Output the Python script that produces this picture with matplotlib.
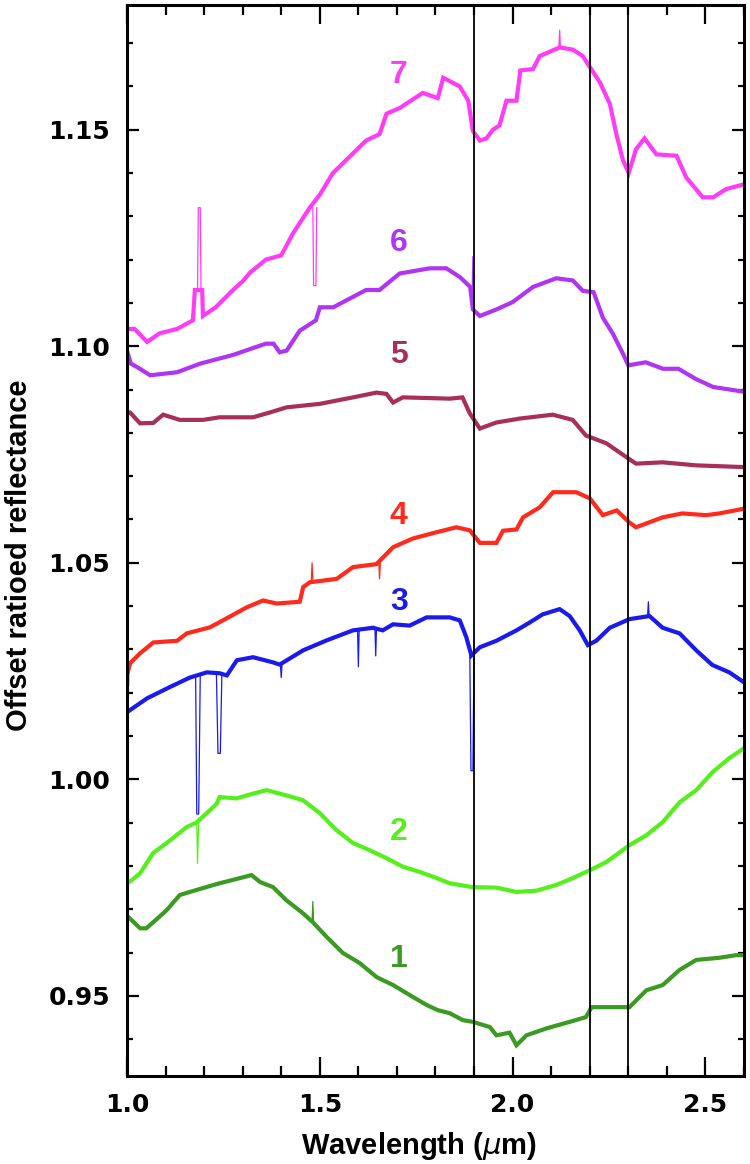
import matplotlib
matplotlib.use("Agg")
import matplotlib.pyplot as plt
from matplotlib.ticker import MultipleLocator

# spectra (wavelength in um, offset ratioed reflectance)
x7 = [1.0, 1.02, 1.052, 1.085, 1.13, 1.171, 1.176, 1.195, 1.197, 1.23, 1.275, 1.30, 1.319, 1.36, 1.40,
      1.43, 1.474, 1.5, 1.534, 1.58, 1.62, 1.655, 1.673, 1.707, 1.767, 1.806, 1.82, 1.863, 1.885, 1.897,
      1.915, 1.932, 1.949, 1.966, 1.984, 2.01, 2.02, 2.053, 2.07, 2.122, 2.156, 2.182, 2.2, 2.226, 2.252,
      2.269, 2.286, 2.301, 2.32, 2.342, 2.373, 2.425, 2.45, 2.493, 2.52, 2.554, 2.6]
y7 = [1.104, 1.104, 1.101, 1.103, 1.104, 1.106, 1.113, 1.113, 1.107, 1.109, 1.113, 1.115, 1.117, 1.120,
      1.121, 1.126, 1.132, 1.135, 1.140, 1.144, 1.1475, 1.149, 1.1537, 1.155, 1.1585, 1.1573, 1.162, 1.160,
      1.1567, 1.1497, 1.1475, 1.148, 1.150, 1.151, 1.1567, 1.1567, 1.1637, 1.164, 1.167, 1.169, 1.1685,
      1.167, 1.1645, 1.161, 1.156, 1.149, 1.143, 1.140, 1.1455, 1.148, 1.1443, 1.144, 1.139, 1.1344,
      1.1344, 1.1363, 1.1374]
x6 = [1.0, 1.01, 1.03, 1.06, 1.13, 1.19, 1.275, 1.36, 1.38, 1.396, 1.414, 1.448, 1.49, 1.5, 1.535, 1.62,
      1.655, 1.707, 1.785, 1.828, 1.863, 1.89, 1.897, 1.915, 1.958, 2.0, 2.053, 2.113, 2.156, 2.182, 2.21,
      2.234, 2.26, 2.286, 2.3, 2.345, 2.39, 2.43, 2.476, 2.52, 2.6]
y6 = [1.099, 1.096, 1.095, 1.0933, 1.094, 1.096, 1.098, 1.1006, 1.1006, 1.0986, 1.099, 1.1036, 1.106,
      1.109, 1.109, 1.113, 1.113, 1.1168, 1.118, 1.118, 1.116, 1.1137, 1.1085, 1.107, 1.1085, 1.1102,
      1.1137, 1.1157, 1.1152, 1.1128, 1.1125, 1.1066, 1.1029, 1.0983, 1.0956, 1.0963, 1.0948, 1.0948,
      1.0924, 1.0906, 1.0895]
x5 = [1.0, 1.008, 1.034, 1.068, 1.094, 1.137, 1.197, 1.24, 1.327, 1.37, 1.414, 1.5, 1.586, 1.647, 1.673,
      1.69, 1.715, 1.8, 1.837, 1.87, 1.889, 1.915, 1.958, 2.018, 2.104, 2.156, 2.19, 2.243, 2.295, 2.32,
      2.389, 2.476, 2.6]
y5 = [1.0845, 1.0847, 1.0822, 1.0823, 1.0842, 1.083, 1.083, 1.0836, 1.0836, 1.0847, 1.0859, 1.0867,
      1.0882, 1.0893, 1.089, 1.087, 1.0882, 1.088, 1.0879, 1.0882, 1.0845, 1.081, 1.0824, 1.0833, 1.0842,
      1.083, 1.0794, 1.0776, 1.0744, 1.0729, 1.0732, 1.0725, 1.0721]
x4 = [1.003, 1.008, 1.034, 1.068, 1.13, 1.155, 1.215, 1.259, 1.31, 1.353, 1.388, 1.448, 1.457, 1.474,
      1.544, 1.586, 1.647, 1.69, 1.741, 1.8, 1.854, 1.889, 1.915, 1.958, 1.975, 2.01, 2.027, 2.07, 2.105,
      2.165, 2.2, 2.234, 2.27, 2.303, 2.32, 2.389, 2.44, 2.502, 2.536, 2.6]
y4 = [1.025, 1.0268, 1.0291, 1.0316, 1.032, 1.0337, 1.0351, 1.0372, 1.0397, 1.0413, 1.0406, 1.041,
      1.0444, 1.0455, 1.0463, 1.049, 1.0497, 1.0536, 1.0556, 1.057, 1.0582, 1.0575, 1.0546, 1.0546,
      1.0574, 1.0577, 1.0605, 1.0628, 1.0663, 1.0663, 1.0649, 1.061, 1.0621, 1.0593, 1.0582, 1.0605,
      1.0614, 1.061, 1.0614, 1.0625]
x3 = [1.0, 1.052, 1.111, 1.163, 1.207, 1.24, 1.259, 1.285, 1.327, 1.379, 1.396, 1.457, 1.518, 1.586,
      1.638, 1.663, 1.69, 1.733, 1.777, 1.837, 1.863, 1.88, 1.893, 1.915, 1.958, 2.01, 2.044, 2.078,
      2.122, 2.148, 2.174, 2.195, 2.217, 2.252, 2.303, 2.355, 2.389, 2.433, 2.476, 2.518, 2.562, 2.6]
y3 = [1.0155, 1.0187, 1.0213, 1.0235, 1.0247, 1.0245, 1.0240, 1.0275, 1.0282, 1.027, 1.0265, 1.0298,
      1.0321, 1.0344, 1.035, 1.0344, 1.0358, 1.0355, 1.0374, 1.0374, 1.0367, 1.0328, 1.0286, 1.0305,
      1.032, 1.0344, 1.0362, 1.0381, 1.0393, 1.0377, 1.0344, 1.031, 1.032, 1.035, 1.037, 1.0377, 1.035,
      1.0337, 1.0298, 1.0264, 1.0247, 1.0224]
x2 = [1.0, 1.012, 1.034, 1.068, 1.103, 1.155, 1.18, 1.207, 1.233, 1.24, 1.284, 1.327, 1.362, 1.413,
      1.456, 1.5, 1.543, 1.586, 1.63, 1.673, 1.716, 1.76, 1.803, 1.837, 1.897, 1.958, 2.01, 2.062, 2.113,
      2.156, 2.2, 2.243, 2.303, 2.347, 2.389, 2.433, 2.476, 2.519, 2.562, 2.6]
y2 = [0.976, 0.9767, 0.9783, 0.983, 0.9853, 0.989, 0.990, 0.9922, 0.9944, 0.9959, 0.9956, 0.9967, 0.9975,
      0.9963, 0.9952, 0.9922, 0.9883, 0.9853, 0.9836, 0.9818, 0.9798, 0.9786, 0.9772, 0.976, 0.9751,
      0.975, 0.974, 0.9743, 0.9756, 0.9772, 0.979, 0.9809, 0.9848, 0.9871, 0.9901, 0.9947, 0.9975,
      1.0017, 1.0049, 1.0072]
x1 = [1.0, 1.012, 1.034, 1.05, 1.068, 1.103, 1.137, 1.197, 1.24, 1.293, 1.323, 1.345, 1.379, 1.413,
      1.456, 1.482, 1.518, 1.56, 1.603, 1.648, 1.69, 1.733, 1.777, 1.806, 1.837, 1.871, 1.897, 1.941,
      1.958, 1.992, 2.01, 2.036, 2.088, 2.148, 2.19, 2.205, 2.252, 2.303, 2.347, 2.389, 2.433, 2.476,
      2.536, 2.579, 2.6]
y1 = [0.9685, 0.9675, 0.9656, 0.9656, 0.967, 0.9698, 0.9733, 0.9749, 0.976, 0.9772, 0.9779, 0.9763,
      0.9751, 0.9721, 0.9691, 0.967, 0.9636, 0.9599, 0.9576, 0.9543, 0.9525, 0.9502, 0.9479, 0.9467,
      0.946, 0.9444, 0.944, 0.9428, 0.9409, 0.9415, 0.9386, 0.9409, 0.9425, 0.944, 0.9451, 0.9474,
      0.9474, 0.9474, 0.9513, 0.9525, 0.956, 0.9583, 0.9588, 0.9594, 0.9594]

# narrow spikes, drawn thin on top
spikes = {
    "7": [([1.183, 1.185, 1.19, 1.192], [1.113, 1.132, 1.132, 1.113]),
          ([1.482, 1.484, 1.49, 1.492], [1.132, 1.114, 1.114, 1.132]),
          ([2.12, 2.122, 2.124], [1.169, 1.173, 1.169])],
    "6": [([1.895, 1.897, 1.899], [1.112, 1.1207, 1.109])],
    "4": [([1.003, 1.004, 1.006], [1.026, 1.0215, 1.027]),
          ([1.478, 1.48, 1.482], [1.046, 1.050, 1.046]),
          ([1.653, 1.655, 1.657], [1.050, 1.0463, 1.050])],
    "3": [([1.178, 1.181, 1.186, 1.19], [1.024, 0.992, 0.992, 1.024]),
          ([1.232, 1.236, 1.242, 1.246], [1.024, 1.006, 1.006, 1.024]),
          ([1.398, 1.40, 1.402], [1.0265, 1.0235, 1.0265]),
          ([1.598, 1.60, 1.602], [1.0344, 1.026, 1.0344]),
          ([1.643, 1.645, 1.647], [1.035, 1.0285, 1.035]),
          ([1.889, 1.892, 1.897, 1.90], [1.0286, 1.002, 1.002, 1.030]),
          ([2.35, 2.352, 2.354], [1.0377, 1.041, 1.0377])],
    "2": [([1.181, 1.183, 1.186], [0.990, 0.9806, 0.991])],
    "1": [([1.48, 1.482, 1.484], [0.967, 0.9718, 0.967])],
}

names = ["1", "2", "3", "4", "5", "6", "7"]
xs = [x1, x2, x3, x4, x5, x6, x7]
ys = [y1, y2, y3, y4, y5, y6, y7]
colors = ["#3a9a22", "#55f01c", "#1a1aee", "#ff2a1c", "#a82f5a", "#b035f2", "#ff3cf5"]
label_y = [0.9586, 0.9878, 1.0409, 1.0609, 1.098, 1.1239, 1.1627]
label_x = 1.705

band_lines = [1.9, 2.2, 2.3]

fig = plt.figure(figsize=(7.5, 11.64), dpi=100)
ax = fig.add_axes([0.1693, 0.0756, 0.8227, 0.9201])

for name, x, y, c, ly in zip(names, xs, ys, colors, label_y):
    ax.plot(x, y, color=c, lw=3.0, solid_joinstyle="miter")
    for sx, sy in spikes.get(name, []):
        ax.plot(sx, sy, color=c, lw=0.9)
    ax.text(label_x, ly, name, color=c, fontsize=23, fontweight="bold",
            family="Liberation Sans", ha="center", va="center")

for b in band_lines:
    ax.axvline(b, color="black", lw=1.3)

ax.set_xlim(1.0, 2.6)
ax.set_ylim(0.9315, 1.1788)
ax.xaxis.set_major_locator(MultipleLocator(0.5))
ax.xaxis.set_minor_locator(MultipleLocator(0.1))
ax.yaxis.set_major_locator(MultipleLocator(0.05))
ax.yaxis.set_minor_locator(MultipleLocator(0.01))
ax.xaxis.set_major_formatter(plt.FormatStrFormatter("%.1f"))
ax.yaxis.set_major_formatter(plt.FormatStrFormatter("%.2f"))

ax.tick_params(axis="both", which="both", direction="in", top=True, right=True, width=1.6)
ax.tick_params(axis="x", which="major", length=14, pad=12)
ax.tick_params(axis="x", which="minor", length=7)
ax.tick_params(axis="y", which="major", length=8.5, pad=12)
ax.tick_params(axis="y", which="minor", length=4)
for lab in ax.get_xticklabels() + ax.get_yticklabels():
    lab.set_fontsize(18)
    lab.set_fontweight("heavy")
    lab.set_family("DejaVu Sans")
for s in ax.spines.values():
    s.set_linewidth(2.2)

ax.set_xlabel(r"Wavelength ($\mu$m)", fontsize=21, fontweight="bold", family="Liberation Sans")
ax.set_ylabel("Offset ratioed reflectance", fontsize=21, fontweight="bold", family="Liberation Sans")
ax.xaxis.set_label_coords(0.474, -0.050)
ax.yaxis.set_label_coords(-0.153, 0.4865)

fig.savefig("out.png", dpi=100)
